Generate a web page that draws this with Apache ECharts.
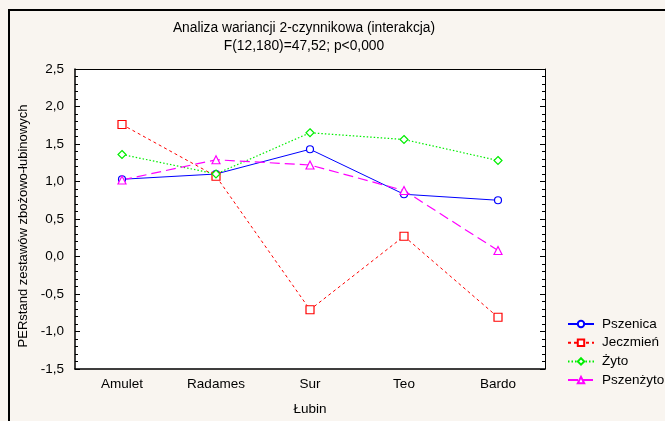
<!DOCTYPE html>
<html>
<head>
<meta charset="utf-8">
<script src="https://cdn.jsdelivr.net/npm/echarts@6/dist/echarts.min.js"></script>
<style>
  html, body { margin: 0; padding: 0; background: #f9f5f0; }
  #main { width: 665px; height: 421px; }
</style>
</head>
<body>
<div id="main"></div>
<script>
    // odmiany łubinu
    var categories = ['Amulet', 'Radames', 'Sur', 'Teo', 'Bardo'];
    var pszenica = [1.03, 1.10, 1.43, 0.83, 0.75];
    var jeczmien = [1.76, 1.07, -0.71, 0.27, -0.81];
    var zyto = [1.36, 1.10, 1.65, 1.56, 1.28];
    var pszenzyto = [1.02, 1.29, 1.22, 0.88, 0.08];

    var font = 'Liberation Sans, Arial, sans-serif';

    function fmt(v){
        return v.toFixed(1).replace('.', ',');
    }

    function serie(name, data, color, symbol, size, dash, width){
        return {
            name: name,
            type: 'line',
            data: data,
            symbol: symbol,
            symbolSize: size,
            lineStyle: { color: color, width: width, type: dash },
            itemStyle: { color: '#ffffff', borderColor: color, borderWidth: 1.2 },
            emphasis: { disabled: true },
            animation: false
        };
    }

    var chart = echarts.init(document.getElementById('main'));
    chart.setOption({
        backgroundColor: '#f9f5f0',
        title: {
            text: 'Analiza wariancji 2-czynnikowa (interakcja)\nF(12,180)=47,52; p<0,000',
            left: 304, top: 19, padding: 0, textAlign: 'center',
            textStyle: { fontFamily: font, fontSize: 13.8, fontWeight: 'normal', color: '#000', lineHeight: 18 }
        },
        graphic: [{
            type: 'rect',
            shape: { x: 9, y: 10, width: 670, height: 420 },
            style: { fill: null, stroke: '#000', lineWidth: 2 },
            z: -1
        }],
        legend: {
            orient: 'vertical',
            left: 567, top: 317, padding: 0,
            itemWidth: 26, itemHeight: 8, itemGap: 4.7,
            textStyle: { fontFamily: font, fontSize: 13.5, color: '#000', padding: [0, 0, 0, 3] },
            data: ['Pszenica', 'Jeczmień', 'Żyto', 'Pszenżyto']
        },
        grid: { left: 75, top: 69, width: 470, height: 304, backgroundColor: '#fff', show: true, borderWidth: 0 },
        xAxis: [{
            type: 'category', data: categories, boundaryGap: true,
            name: 'Łubin', nameLocation: 'middle', nameGap: 33,
            nameTextStyle: { fontFamily: font, fontSize: 13.5, color: '#000' },
            axisLine: { onZero: false, lineStyle: { color: '#000', width: 1.5 } },
            axisTick: { inside: true, alignWithLabel: true, length: 4, lineStyle: { color: '#000' } },
            axisLabel: { fontFamily: font, fontSize: 13.5, color: '#000', margin: 8 },
            splitLine: { show: false }
        }, {
            type: 'category', data: categories, boundaryGap: true, position: 'top',
            axisLine: { onZero: false, lineStyle: { color: '#000', width: 1 } },
            axisTick: { inside: true, alignWithLabel: true, length: 4, lineStyle: { color: '#000' } },
            axisLabel: { show: false }
        }],
        yAxis: [{
            type: 'value', min: -1.5, max: 2.5, interval: 0.5,
            name: 'PERstand zestawów zbożowo-łubinowych', nameLocation: 'middle', nameGap: 35,
            nameTextStyle: { fontFamily: font, fontSize: 13, color: '#000', padding: [0, 14, 0, 0] },
            axisLine: { show: true, onZero: false, lineStyle: { color: '#000', width: 1.5 } },
            axisTick: { show: true, inside: true, length: 5, lineStyle: { color: '#000' } },
            minorTick: { show: true, splitNumber: 5, length: 3, lineStyle: { color: '#000' } },
            axisLabel: { fontFamily: font, fontSize: 13.5, color: '#000', margin: 11, formatter: fmt },
            splitLine: { show: false }
        }, {
            type: 'value', min: -1.5, max: 2.5, interval: 0.5, position: 'right',
            axisLine: { show: true, onZero: false, lineStyle: { color: '#000', width: 1 } },
            axisTick: { show: true, inside: true, length: 5, lineStyle: { color: '#000' } },
            minorTick: { show: true, splitNumber: 5, length: 3, lineStyle: { color: '#000' } },
            axisLabel: { show: false },
            splitLine: { show: false }
        }],
        series: [
            serie('Pszenica', pszenica, '#0000ff', 'circle', 7, 'solid', 1),
            serie('Jeczmień', jeczmien, '#ff0000', 'rect', 8, [3, 3], 1),
            serie('Żyto', zyto, '#00ee00', 'diamond', 8, [1.5, 2], 1.2),
            serie('Pszenżyto', pszenzyto, '#ff00ff', 'triangle', 8, [10, 5], 1.2)
        ]
    });
</script>
</body>
</html>
